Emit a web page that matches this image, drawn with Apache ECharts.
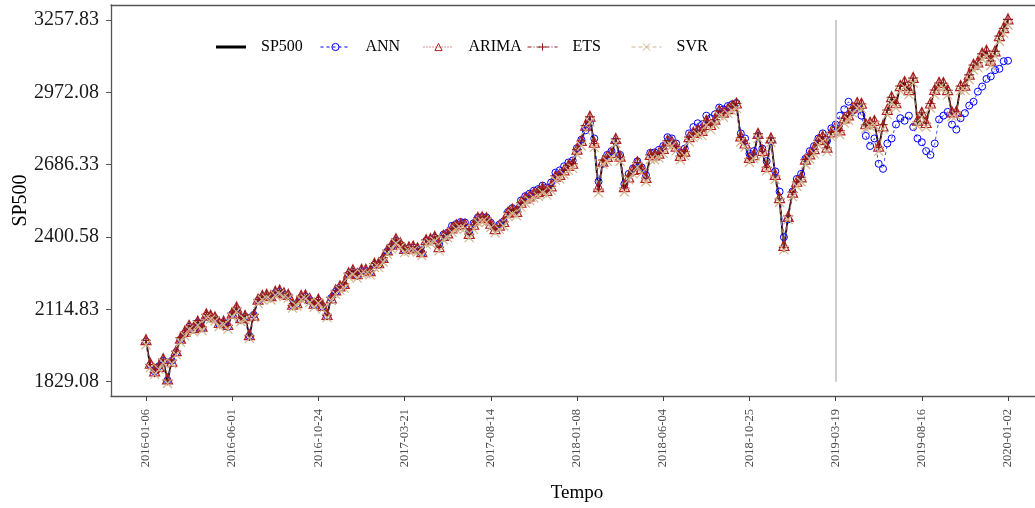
<!DOCTYPE html>
<html><head><meta charset="utf-8">
<script src="https://cdn.jsdelivr.net/npm/echarts@6/dist/echarts.min.js"></script>
<style>html,body{margin:0;padding:0;background:#fff}#c{width:1035px;height:508px}</style>
</head><body><div id="c"></div>
<script>
// x tick labels (one every 20 samples; each sample ~5 trading days)
const tickLabels = ['2016-01-06','2016-06-01','2016-10-24','2017-03-21','2017-08-14','2018-01-08',
  '2018-06-04','2018-10-25','2019-03-19','2019-08-16','2020-01-02'];
const samplesPerTick = 20;
const yTicks = [1829.08, 2114.83, 2400.58, 2686.33, 2972.08, 3257.83];
const splitIndex = 160;
const seriesNames = ['SP500','ANN','ARIMA','ETS','SVR'];

const sp500 = [1990,1890,1868,1893,1915,1829.08,1917,1948,1999,2022,
2049,2037,2066,2042,2094,2087,2081,2058,2066,2048,
2099,2119,2075,2088,2005,2097,2152,2165,2170,2164,
2182,2187,2175,2170,2128,2139,2165,2168,2153,2133,
2151,2126,2088,2164,2187,2204,2212,2256,2266,2250,
2269,2268,2263,2294,2293,2316,2347,2367,2390,2373,
2350,2358,2360,2353,2338,2387,2389,2399,2357,2404,
2412,2433,2445,2450,2448,2409,2447,2473,2475,2472,
2450,2428,2444,2457,2496,2506,2497,2534,2550,2559,
2569,2575,2591,2579,2599,2640,2645,2662,2679,2687,
2743,2777,2839,2872,2762,2581,2702,2714,2730,2786,
2712,2588,2640,2663,2693,2666,2630,2723,2720,2727,
2746,2779,2774,2754,2717,2736,2793,2809,2820,2816,
2858,2839,2862,2897,2888,2904,2915,2925,2786,2768,
2706,2723,2806,2736,2673,2790,2637,2546,2351,2486,
2575,2616,2633,2704,2724,2745,2780,2794,2750,2812,
2832,2818,2867,2878,2907,2927,2924,2840,2850,2856,
2750,2843,2900,2950,2925,2995,3010,2977,3026,2850,
2889,2847,2926,2979,3007,3006,2977,2887,2893,2995,
2996,3039,3078,3087,3122,3133,3093,3132,3192,3223,
3257.83];

const ann = [1988,1895,1870,1890,1912,1835,1912,1945,1996,2020,
2046,2035,2063,2040,2090,2085,2079,2056,2064,2046,
2096,2116,2073,2086,2010,2093,2149,2162,2167,2162,
2179,2184,2173,2168,2130,2137,2162,2166,2151,2132,
2149,2125,2090,2160,2184,2201,2210,2253,2263,2248,
2266,2266,2261,2291,2291,2313,2344,2364,2386,2372,
2349,2357,2359,2352,2337,2386,2388,2398,2372,2410,
2418,2445,2452,2460,2458,2422,2455,2478,2480,2478,
2457,2436,2450,2463,2500,2515,2508,2545,2562,2572,
2584,2590,2604,2596,2616,2655,2664,2680,2695,2703,
2752,2785,2822,2850,2790,2620,2690,2725,2740,2778,
2725,2610,2650,2672,2700,2676,2645,2733,2735,2745,
2760,2795,2790,2770,2735,2750,2810,2835,2850,2845,
2880,2870,2885,2912,2905,2918,2925,2930,2810,2790,
2730,2740,2800,2750,2700,2780,2660,2580,2400,2470,
2580,2630,2650,2710,2740,2760,2790,2810,2780,2830,
2845,2880,2905,2935,2900,2915,2880,2800,2760,2790,
2690,2670,2770,2790,2845,2870,2860,2880,2835,2790,
2775,2740,2725,2770,2865,2880,2895,2845,2825,2870,
2890,2920,2935,2975,2995,3025,3035,3060,3065,3095,
3097];

const arima = [1995,1902,1872,1890,1920,1840,1910,1952,2001,2028,
2052,2043,2068,2049,2097,2092,2085,2063,2068,2055,
2101,2124,2082,2090,2015,2092,2155,2170,2174,2169,
2186,2191,2180,2174,2135,2141,2170,2172,2158,2139,
2155,2131,2095,2160,2192,2208,2217,2259,2271,2256,
2273,2273,2268,2297,2299,2320,2350,2372,2394,2378,
2356,2362,2365,2358,2343,2390,2394,2403,2363,2407,
2417,2437,2449,2453,2452,2415,2451,2478,2480,2477,
2455,2434,2448,2462,2499,2511,2502,2538,2555,2563,
2574,2580,2595,2585,2603,2641,2648,2666,2684,2692,
2748,2782,2843,2878,2775,2600,2700,2719,2735,2790,
2720,2600,2638,2668,2698,2672,2636,2727,2725,2732,
2751,2783,2779,2760,2723,2740,2797,2814,2825,2822,
2862,2845,2866,2901,2894,2908,2920,2930,2800,2772,
2715,2726,2810,2743,2680,2792,2648,2556,2368,2482,
2578,2621,2638,2708,2729,2750,2785,2799,2756,2816,
2837,2824,2871,2883,2912,2932,2929,2848,2854,2861,
2760,2840,2905,2955,2931,2999,3015,2983,3031,2862,
2893,2853,2930,2984,3012,3011,2983,2895,2897,2999,
3001,3044,3083,3092,3127,3138,3099,3136,3196,3228,
3262];

const ets = [1992,1897,1866,1896,1918,1835,1914,1950,2003,2025,
2050,2040,2070,2046,2095,2090,2083,2061,2070,2052,
2100,2121,2079,2092,2010,2095,2153,2168,2172,2166,
2184,2190,2178,2172,2131,2143,2167,2170,2156,2136,
2153,2129,2092,2162,2189,2206,2215,2258,2269,2253,
2271,2270,2266,2296,2296,2318,2349,2370,2392,2376,
2353,2360,2363,2356,2341,2389,2392,2401,2360,2406,
2415,2435,2447,2451,2450,2412,2449,2476,2478,2475,
2452,2431,2446,2460,2498,2509,2500,2536,2553,2561,
2572,2578,2593,2582,2601,2643,2647,2664,2682,2690,
2746,2780,2841,2875,2770,2590,2704,2716,2732,2788,
2716,2594,2642,2665,2695,2669,2633,2725,2722,2730,
2748,2781,2776,2757,2720,2738,2795,2811,2823,2819,
2860,2842,2864,2899,2891,2906,2917,2928,2793,2770,
2710,2725,2808,2740,2676,2791,2642,2551,2360,2484,
2577,2618,2636,2706,2726,2747,2782,2797,2753,2814,
2834,2821,2869,2880,2909,2929,2926,2844,2852,2858,
2755,2845,2902,2952,2928,2997,3012,2980,3028,2856,
2891,2850,2928,2981,3009,3008,2980,2891,2895,2997,
2998,3041,3080,3089,3124,3135,3096,3134,3194,3225,
3260];

const svr = [1975,1885,1858,1878,1903,1822,1900,1936,1985,2010,
2036,2026,2052,2031,2080,2076,2069,2047,2054,2037,
2085,2106,2066,2074,2000,2082,2138,2153,2158,2152,
2170,2175,2164,2158,2120,2128,2153,2156,2142,2123,
2140,2116,2082,2150,2174,2191,2199,2242,2253,2238,
2256,2255,2251,2280,2281,2302,2333,2353,2376,2360,
2339,2345,2347,2341,2327,2372,2376,2385,2346,2390,
2398,2419,2431,2436,2434,2398,2432,2458,2461,2459,
2438,2417,2431,2444,2481,2492,2484,2519,2535,2545,
2555,2561,2576,2566,2585,2625,2630,2647,2664,2672,
2727,2760,2822,2855,2755,2575,2688,2700,2716,2770,
2700,2578,2627,2650,2678,2653,2619,2707,2706,2713,
2731,2763,2760,2741,2705,2722,2777,2793,2804,2801,
2842,2825,2846,2880,2873,2889,2899,2909,2776,2756,
2696,2710,2790,2724,2662,2774,2628,2538,2350,2470,
2560,2601,2619,2688,2709,2730,2764,2779,2738,2796,
2816,2804,2851,2862,2890,2910,2908,2828,2837,2842,
2740,2828,2884,2933,2911,2978,2993,2963,3009,2840,
2874,2835,2910,2962,2990,2990,2962,2876,2880,2978,
2980,3022,3060,3070,3104,3115,3078,3115,3174,3205,
3238];

const serif = '"Liberation Serif","DejaVu Serif",serif';
const pairs = arr => arr.map((v, i) => [i, v]);
const tickPos = tickLabels.map((_, i) => i * samplesPerTick);
const yRange = yTicks[yTicks.length - 1] - yTicks[0];

const PLUS = 'path://M5,0L5,10M0,5L10,5';
const CROSS = 'path://M0,0L10,10M0,10L10,0';
const T = 'rgba(0,0,0,0)';
const colors = {SP500: '#000000', ANN: '#0000FF', ARIMA: '#B22222', ETS: '#8B1A1A', SVR: '#D2B48C'};

const chart = echarts.init(document.getElementById('c'), null, {renderer: 'canvas'});
const legendLeft = [216, 320, 423, 527, 631];

const legends = seriesNames.map((n, i) => {
  const base = {
    left: legendLeft[i], top: 39, padding: 0, itemWidth: 30, itemHeight: 9, selectedMode: false,
    textStyle: {fontFamily: serif, fontSize: 16, color: '#000', padding: [0, 0, 0, 10]}
  };
  if (n === 'SP500') {
    base.data = [{name: n, icon: 'rect', itemStyle: {color: '#000'}}];
    base.itemHeight = 3;
  } else {
    base.data = [{name: n, lineStyle: {width: 1},
      itemStyle: {color: T, borderColor: colors[n], borderWidth: 1}}];
  }
  return base;
});

chart.setOption({
  animation: false,
  backgroundColor: '#fff',
  grid: {left: 111, right: 0, top: 5, bottom: 112, containLabel: false, outerBoundsMode: 'none'},
  legend: legends,
  xAxis: [{
    type: 'value', min: -8.12, max: 206.26, position: 'bottom',
    axisLine: {show: true, onZero: false, lineStyle: {color: '#555', width: 1.3}},
    axisTick: {show: true, customValues: tickPos, length: 5, lineStyle: {color: '#444', width: 1}},
    axisLabel: {customValues: tickPos, rotate: 90, margin: 13,
      formatter: v => tickLabels[Math.round(v / samplesPerTick)],
      fontFamily: serif, fontSize: 12.5, color: '#4d4d4d'},
    splitLine: {show: false},
    name: 'Tempo', nameLocation: 'middle', nameGap: 88, nameMoveOverlap: false,
    nameTextStyle: {fontFamily: serif, fontSize: 19, color: '#000', padding: [0, 0, 0, 8]}
  }, {
    type: 'value', min: -8.12, max: 206.26, position: 'top',
    axisLine: {show: true, onZero: false, lineStyle: {color: '#555', width: 1.3}},
    axisTick: {show: false}, axisLabel: {show: false}, splitLine: {show: false}
  }],
  yAxis: {
    type: 'value', min: yTicks[0] - 0.0395 * yRange, max: yTicks[yTicks.length - 1] + 0.0415 * yRange,
    axisLine: {show: true, onZero: false, lineStyle: {color: '#555', width: 1.3}},
    axisTick: {show: true, customValues: yTicks, length: 5, lineStyle: {color: '#555', width: 1}},
    axisLabel: {customValues: yTicks, margin: 12, formatter: v => v.toFixed(2),
      fontFamily: serif, fontSize: 20, color: '#1a1a1a'},
    splitLine: {show: false},
    name: 'SP500', nameLocation: 'middle', nameGap: 80, nameMoveOverlap: false,
    nameTextStyle: {fontFamily: serif, fontSize: 20, color: '#000'}
  },
  series: [
    {name: 'SP500', type: 'line', data: pairs(sp500), symbol: 'none',
      lineStyle: {color: colors.SP500, width: 1.8}, itemStyle: {color: colors.SP500},
      markLine: {silent: true, symbol: 'none', label: {show: false},
        lineStyle: {color: '#BEBEBE', width: 1.5, type: 'solid'},
        data: [[{coord: [splitIndex, yTicks[0]]}, {coord: [splitIndex, yTicks[yTicks.length - 1]]}]]}},
    {name: 'ANN', type: 'line', data: pairs(ann), symbol: 'circle', symbolSize: 7, showAllSymbol: true,
      lineStyle: {color: colors.ANN, width: 0.7, type: [3, 3]},
      itemStyle: {color: T, borderColor: colors.ANN, borderWidth: 1}},
    {name: 'ARIMA', type: 'line', data: pairs(arima), symbol: 'triangle', symbolSize: 10, showAllSymbol: true,
      lineStyle: {color: colors.ARIMA, width: 0.8, type: [1, 2]},
      itemStyle: {color: T, borderColor: colors.ARIMA, borderWidth: 1.2}},
    {name: 'ETS', type: 'line', data: pairs(ets), symbol: PLUS, symbolSize: 10, showAllSymbol: true,
      lineStyle: {color: colors.ETS, width: 0.8, type: [4, 2, 1, 2]},
      itemStyle: {color: T, borderColor: colors.ETS, borderWidth: 1.2}},
    {name: 'SVR', type: 'line', data: pairs(svr), symbol: CROSS, symbolSize: 9, showAllSymbol: true,
      lineStyle: {color: colors.SVR, width: 0.8, type: [4, 3]},
      itemStyle: {color: T, borderColor: colors.SVR, borderWidth: 1.2}}
  ]
});
</script></body></html>
